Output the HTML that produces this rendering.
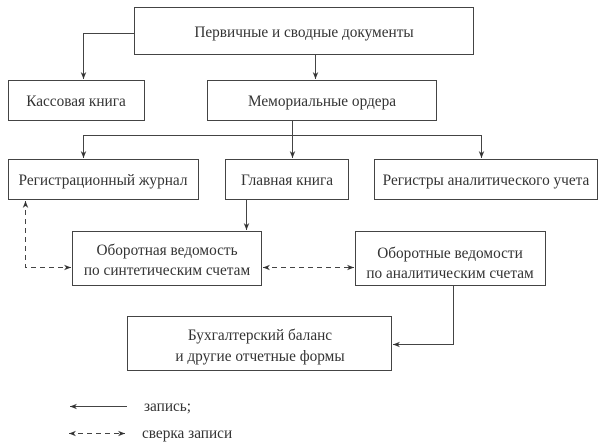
<!DOCTYPE html>
<html><head><meta charset="utf-8"><style>
html,body{margin:0;padding:0;background:#fff;}
svg{display:block;}
text{font-family:"Liberation Serif",serif;font-size:15.3px;fill:#333;}
</style></head><body>
<svg width="600" height="444" viewBox="0 0 600 444" xmlns="http://www.w3.org/2000/svg">
<defs>
<marker id="a" viewBox="0 0 10 10" refX="10" refY="5" markerWidth="7" markerHeight="7" orient="auto-start-reverse"><path d="M0,1 L10,5 L0,9 L3,5 z" fill="#333"/></marker>
</defs>
<g fill="#fff" stroke="#444" stroke-width="1">
<rect x="134.5" y="7.5" width="339" height="47"/>
<rect x="8.5" y="80.5" width="136" height="40"/>
<rect x="207.5" y="80.5" width="229" height="40"/>
<rect x="8.5" y="159.5" width="190" height="40"/>
<rect x="225.5" y="159.5" width="123" height="40"/>
<rect x="374.5" y="159.5" width="223" height="40"/>
<rect x="72.5" y="231.5" width="189" height="54"/>
<rect x="355.5" y="231.5" width="190" height="54"/>
<rect x="127.5" y="316.5" width="264" height="54"/>
</g>
<g fill="none" stroke="#444" stroke-width="1">
<path d="M134 33.5 H83.5 V79" marker-end="url(#a)"/>
<path d="M315.5 55 V79" marker-end="url(#a)"/>
<path d="M292.5 121 V158" marker-end="url(#a)"/>
<path d="M83.5 158 V135.5 H481.5 V158" marker-end="url(#a)"/>
<path d="M83.5 135.5 V158" marker-end="url(#a)"/>
<path d="M246.5 200 V230" marker-end="url(#a)"/>
<path d="M453.5 286 V344.5 H393" marker-end="url(#a)"/>
<path d="M70 406.5 H127" marker-start="url(#a)"/>
</g>
<g fill="none" stroke="#444" stroke-width="1" stroke-dasharray="5,4">
<path d="M25.5 201 V267.5 H71" marker-start="url(#a)" marker-end="url(#a)"/>
<path d="M263 267.5 H354" marker-start="url(#a)" marker-end="url(#a)"/>
<path d="M69 433.5 H125" marker-start="url(#a)" marker-end="url(#a)"/>
</g>
<text x="304" y="37" text-anchor="middle">Первичные и сводные документы</text>
<text x="76" y="106" text-anchor="middle">Кассовая книга</text>
<text x="322" y="106" text-anchor="middle">Мемориальные ордера</text>
<text x="103" y="185" text-anchor="middle">Регистрационный журнал</text>
<text x="287" y="185" text-anchor="middle">Главная книга</text>
<text x="486" y="185" text-anchor="middle">Регистры аналитического учета</text>
<text x="167" y="255" text-anchor="middle">Оборотная ведомость</text>
<text x="167" y="275" text-anchor="middle">по синтетическим счетам</text>
<text x="450" y="258" text-anchor="middle">Оборотные ведомости</text>
<text x="450" y="278" text-anchor="middle">по аналитическим счетам</text>
<text x="260" y="340" text-anchor="middle">Бухгалтерский баланс</text>
<text x="260" y="361" text-anchor="middle">и другие отчетные формы</text>
<text x="144" y="411">запись;</text>
<text x="142" y="438">сверка записи</text>
</svg>
</body></html>
